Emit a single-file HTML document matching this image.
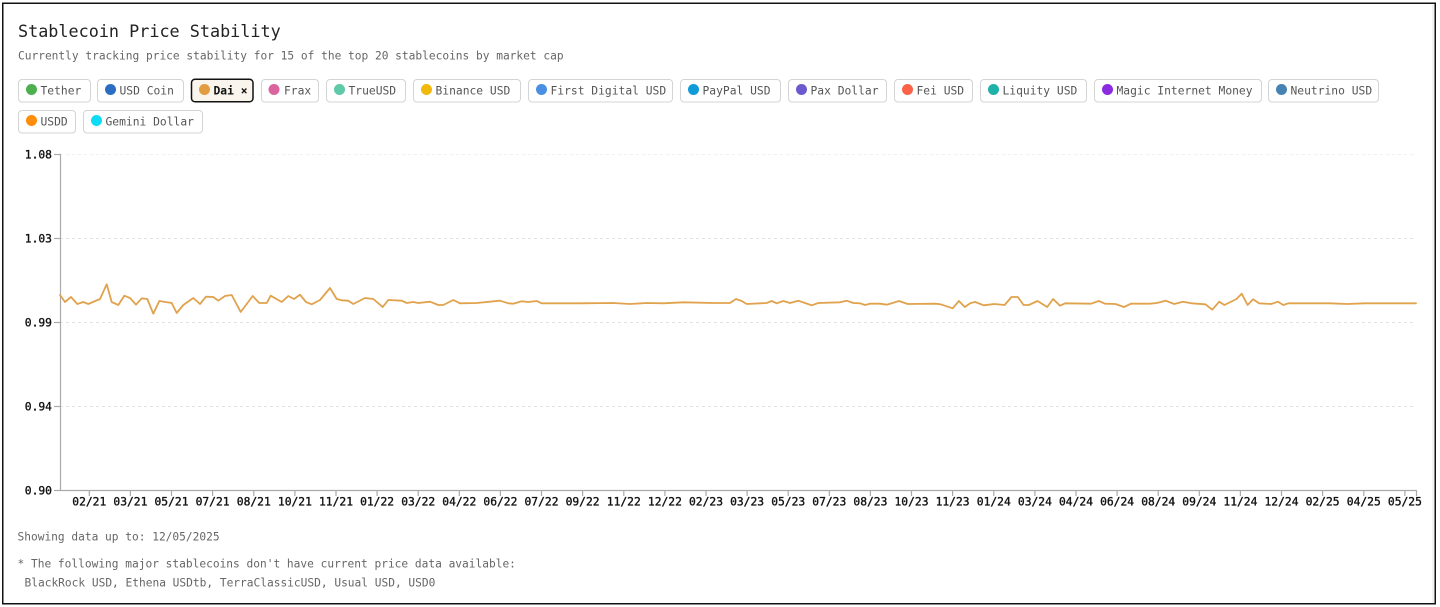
<!DOCTYPE html>
<html><head><meta charset="utf-8"><style>
html,body{margin:0;padding:0;background:#fff;}
svg{display:block;}
text{font-family:"DejaVu Sans Mono","Liberation Mono",monospace;}
</style></head><body>
<svg width="1440" height="607" viewBox="0 0 1440 607" xmlns="http://www.w3.org/2000/svg">
<rect x="0" y="0" width="1440" height="607" fill="#fff"/>
<rect x="2.75" y="3.25" width="1432.5" height="600.5" fill="none" stroke="#111" stroke-width="1.5"/>
<line x1="1433" y1="5" x2="1433" y2="603" stroke="#e4e4e4" stroke-width="1"/>

<text x="18" y="37" font-size="16.8" fill="#222">Stablecoin Price Stability</text>
<text x="18" y="59.5" font-size="11.2" fill="#666">Currently tracking price stability for 15 of the top 20 stablecoins by market cap</text>

<g font-size="11.3" fill="#555">
<g><rect x="18.5" y="79.5" width="72" height="22.5" rx="3.5" fill="#fff" stroke="#d4d4d4"/><circle cx="31.5" cy="89.5" r="5.5" fill="#4caf50"/><text x="40.5" y="94.5">Tether</text></g>
<g><rect x="97.5" y="79.5" width="86" height="22.5" rx="3.5" fill="#fff" stroke="#d4d4d4"/><circle cx="110.5" cy="89.5" r="5.5" fill="#2a6ec4"/><text x="119.5" y="94.5">USD Coin</text></g>
<g><rect x="191.5" y="79.25" width="61.5" height="22.5" rx="3.5" fill="#faf5ec" stroke="#111" stroke-width="1.5"/><circle cx="204.5" cy="89.5" r="5.5" fill="#e39c3f"/><text x="213.5" y="94.5" fill="#111" font-weight="bold">Dai ×</text></g>
<g><rect x="261.5" y="79.5" width="57" height="22.5" rx="3.5" fill="#fff" stroke="#d4d4d4"/><circle cx="274" cy="89.5" r="5.5" fill="#d9649e"/><text x="284" y="94.5">Frax</text></g>
<g><rect x="326.5" y="79.5" width="79" height="22.5" rx="3.5" fill="#fff" stroke="#d4d4d4"/><circle cx="339.5" cy="89.5" r="5.5" fill="#5fc9a8"/><text x="348.5" y="94.5">TrueUSD</text></g>
<g><rect x="413.5" y="79.5" width="107" height="22.5" rx="3.5" fill="#fff" stroke="#d4d4d4"/><circle cx="426.5" cy="89.5" r="5.5" fill="#f0b90b"/><text x="435.5" y="94.5">Binance USD</text></g>
<g><rect x="528.5" y="79.5" width="144" height="22.5" rx="3.5" fill="#fff" stroke="#d4d4d4"/><circle cx="541.5" cy="89.5" r="5.5" fill="#4a8fe2"/><text x="550.5" y="94.5">First Digital USD</text></g>
<g><rect x="680.5" y="79.5" width="100" height="22.5" rx="3.5" fill="#fff" stroke="#d4d4d4"/><circle cx="693.5" cy="89.5" r="5.5" fill="#0f9ad8"/><text x="702.5" y="94.5">PayPal USD</text></g>
<g><rect x="788.5" y="79.5" width="98" height="22.5" rx="3.5" fill="#fff" stroke="#d4d4d4"/><circle cx="801.5" cy="89.5" r="5.5" fill="#6a5acd"/><text x="810.5" y="94.5">Pax Dollar</text></g>
<g><rect x="894.5" y="79.5" width="78" height="22.5" rx="3.5" fill="#fff" stroke="#d4d4d4"/><circle cx="907.5" cy="89.5" r="5.5" fill="#fa6347"/><text x="916.5" y="94.5">Fei USD</text></g>
<g><rect x="980.5" y="79.5" width="106" height="22.5" rx="3.5" fill="#fff" stroke="#d4d4d4"/><circle cx="993.5" cy="89.5" r="5.5" fill="#20b2a8"/><text x="1002.5" y="94.5">Liquity USD</text></g>
<g><rect x="1094.5" y="79.5" width="167" height="22.5" rx="3.5" fill="#fff" stroke="#d4d4d4"/><circle cx="1107.5" cy="89.5" r="5.5" fill="#8a2be2"/><text x="1116.5" y="94.5">Magic Internet Money</text></g>
<g><rect x="1268.5" y="79.5" width="110" height="22.5" rx="3.5" fill="#fff" stroke="#d4d4d4"/><circle cx="1281.5" cy="89.5" r="5.5" fill="#4682b4"/><text x="1290.5" y="94.5">Neutrino USD</text></g>
<g><rect x="18.5" y="110.5" width="57" height="22.5" rx="3.5" fill="#fff" stroke="#d4d4d4"/><circle cx="31.5" cy="120.5" r="5.5" fill="#ff8c0a"/><text x="40.5" y="125.5">USDD</text></g>
<g><rect x="83.5" y="110.5" width="119" height="22.5" rx="3.5" fill="#fff" stroke="#d4d4d4"/><circle cx="96.5" cy="120.5" r="5.5" fill="#0edcf5"/><text x="105.5" y="125.5">Gemini Dollar</text></g>
</g>

<g stroke="#e2e2e2" stroke-width="1" stroke-dasharray="3,3">
<line x1="60" y1="154.5" x2="1416" y2="154.5" stroke="#f0f0f0"/>
<line x1="60" y1="238.5" x2="1416" y2="238.5"/>
<line x1="60" y1="322.5" x2="1416" y2="322.5"/>
<line x1="60" y1="406.5" x2="1416" y2="406.5"/>
</g>

<g stroke="#aaa" stroke-width="1.2" fill="none">
<line x1="60.5" y1="154" x2="60.5" y2="490.5"/>
<line x1="60" y1="490.5" x2="1416.5" y2="490.5"/>
<line x1="54" y1="154.5" x2="60.5" y2="154.5"/>
<line x1="54" y1="238.5" x2="60.5" y2="238.5"/>
<line x1="54" y1="322.5" x2="60.5" y2="322.5"/>
<line x1="54" y1="406.5" x2="60.5" y2="406.5"/>
<line x1="54" y1="490.5" x2="60.5" y2="490.5"/>
<line x1="1416.5" y1="490" x2="1416.5" y2="496"/>
</g>
<g font-size="11.3" fill="#111" stroke="#111" stroke-width="0.35" text-anchor="end">
<text x="52" y="158.5">1.08</text>
<text x="52" y="242.5">1.03</text>
<text x="52" y="326.5">0.99</text>
<text x="52" y="410.5">0.94</text>
<text x="52" y="494.5">0.90</text>
</g>

<polyline fill="none" stroke="#e0a24c" stroke-width="1.8" stroke-linejoin="round" stroke-linecap="round" points="60,295 65,302 71,297 77.3,304 83.3,302 88.3,304 100,299 106.7,284.3 111.7,302 118.3,305 124.3,295.7 130,298 136,304.7 141.7,298.3 147.3,299 153.3,313.7 159.3,301 171.7,303 176.7,313 183.3,305 193.3,298 200,304 206,296.7 213.3,297 218.3,300.7 225,296 231.7,295 240.7,312 252.7,296 259.3,303 266.7,303 270.7,295.7 281.7,302 288.3,296 294,299 300,294.7 306,302 311.7,304.3 320,300 330,288 336.7,299 341.7,300.3 348.3,300.7 353.3,304 365,298 373.3,299 382.7,307 388.3,300 401.7,300.7 406.7,303 413.3,302 418.3,303 430,301.7 438.3,305 443.3,305 453.3,300 460,303.3 476.7,303 500,300.7 508.3,303.3 513.3,303.7 521.7,301.3 528.3,302 536.7,301 541.7,303.3 580,303.3 613.3,303 630,304 646.7,303 663.3,303.3 683.3,302.3 713.3,303 730,303 736,299 741.7,301 746.7,304 766.7,303 771.7,301 776.7,303.3 783.3,301 790,303 798.3,300.7 805,303 811.7,305.3 818.3,303 840,302.3 846.7,300.7 853.3,303 860,303.3 865,305 870,303.7 880,303.7 886.9,304.7 899,301 907.7,304 935.4,303.7 940.6,304.3 952.7,308.3 958.9,301 964.8,307 970.7,303 975.2,302 983.8,305.3 994.2,304 1004.6,305 1011.5,297 1017.8,297 1023.6,305 1028.8,305 1037.5,301 1047.2,307 1053.1,299 1060,305.7 1065.2,303.3 1091.1,303.7 1098.8,301 1105,303.7 1115.4,304 1124,307 1131,303.7 1150,303.7 1156.9,303 1165.6,300.7 1174.2,304 1182.9,301.7 1191.5,303.3 1205.4,304.3 1212.3,309.7 1219.2,301.7 1224.4,305 1236.5,299 1241.7,293.7 1247.6,305 1253.1,299.3 1259,303.3 1271.1,304 1278,301.7 1283.2,305 1288.4,303.3 1330,303.3 1347.3,304 1364.6,303.3 1416,303.3"/>

<g font-size="11.2" fill="#666">
<text x="17.5" y="540.5">Showing data up to: 12/05/2025</text>
<text x="17.5" y="567.5">* The following major stablecoins don't have current price data available:</text>
<text x="24.5" y="586.5">BlackRock USD, Ethena USDtb, TerraClassicUSD, Usual USD, USD0</text>
</g>

<g font-size="11.3" fill="#111" stroke="#111" stroke-width="0.35" text-anchor="middle">
<text x="89.3" y="505.5">02/21</text><text x="130.4" y="505.5">03/21</text><text x="171.5" y="505.5">05/21</text><text x="212.6" y="505.5">07/21</text><text x="253.8" y="505.5">08/21</text><text x="294.9" y="505.5">10/21</text><text x="336" y="505.5">11/21</text><text x="377.1" y="505.5">01/22</text><text x="418.2" y="505.5">03/22</text><text x="459.3" y="505.5">04/22</text><text x="500.4" y="505.5">06/22</text><text x="541.5" y="505.5">07/22</text><text x="582.6" y="505.5">09/22</text><text x="623.8" y="505.5">11/22</text><text x="664.9" y="505.5">12/22</text><text x="706" y="505.5">02/23</text><text x="747.1" y="505.5">03/23</text><text x="788.2" y="505.5">05/23</text><text x="829.3" y="505.5">07/23</text><text x="870.4" y="505.5">08/23</text><text x="911.5" y="505.5">10/23</text><text x="952.6" y="505.5">11/23</text><text x="993.8" y="505.5">01/24</text><text x="1034.9" y="505.5">03/24</text><text x="1076" y="505.5">04/24</text><text x="1117.1" y="505.5">06/24</text><text x="1158.2" y="505.5">08/24</text><text x="1199.3" y="505.5">09/24</text><text x="1240.4" y="505.5">11/24</text><text x="1281.5" y="505.5">12/24</text><text x="1322.6" y="505.5">02/25</text><text x="1363.8" y="505.5">04/25</text><text x="1404.9" y="505.5">05/25</text>
</g>
<g stroke="#aaa" stroke-width="1.2">
<line x1="89.3" y1="490" x2="89.3" y2="496"/><line x1="130.4" y1="490" x2="130.4" y2="496"/><line x1="171.5" y1="490" x2="171.5" y2="496"/><line x1="212.6" y1="490" x2="212.6" y2="496"/><line x1="253.8" y1="490" x2="253.8" y2="496"/><line x1="294.9" y1="490" x2="294.9" y2="496"/><line x1="336" y1="490" x2="336" y2="496"/><line x1="377.1" y1="490" x2="377.1" y2="496"/><line x1="418.2" y1="490" x2="418.2" y2="496"/><line x1="459.3" y1="490" x2="459.3" y2="496"/><line x1="500.4" y1="490" x2="500.4" y2="496"/><line x1="541.5" y1="490" x2="541.5" y2="496"/><line x1="582.6" y1="490" x2="582.6" y2="496"/><line x1="623.8" y1="490" x2="623.8" y2="496"/><line x1="664.9" y1="490" x2="664.9" y2="496"/><line x1="706" y1="490" x2="706" y2="496"/><line x1="747.1" y1="490" x2="747.1" y2="496"/><line x1="788.2" y1="490" x2="788.2" y2="496"/><line x1="829.3" y1="490" x2="829.3" y2="496"/><line x1="870.4" y1="490" x2="870.4" y2="496"/><line x1="911.5" y1="490" x2="911.5" y2="496"/><line x1="952.6" y1="490" x2="952.6" y2="496"/><line x1="993.8" y1="490" x2="993.8" y2="496"/><line x1="1034.9" y1="490" x2="1034.9" y2="496"/><line x1="1076" y1="490" x2="1076" y2="496"/><line x1="1117.1" y1="490" x2="1117.1" y2="496"/><line x1="1158.2" y1="490" x2="1158.2" y2="496"/><line x1="1199.3" y1="490" x2="1199.3" y2="496"/><line x1="1240.4" y1="490" x2="1240.4" y2="496"/><line x1="1281.5" y1="490" x2="1281.5" y2="496"/><line x1="1322.6" y1="490" x2="1322.6" y2="496"/><line x1="1363.8" y1="490" x2="1363.8" y2="496"/><line x1="1404.9" y1="490" x2="1404.9" y2="496"/>
</g>
</svg>
</body></html>
